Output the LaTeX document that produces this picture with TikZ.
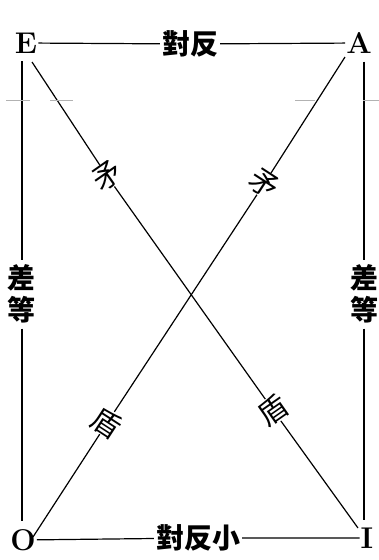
\documentclass[tikz,border=0pt]{standalone}
\usepackage{fontspec}
\newfontfamily\cjk{Noto Sans CJK TC}
\begin{document}
\begin{tikzpicture}[x=1pt,y=-1pt,
  lat/.style={font=\bfseries\fontsize{30}{30}\selectfont, inner xsep=1pt, inner ysep=8pt},
  zh/.style={font=\cjk\bfseries\fontsize{28}{28}\selectfont, inner xsep=2pt, inner ysep=2pt},
  vzh/.style={font=\cjk\bfseries\fontsize{28}{32}\selectfont, align=center, inner xsep=2pt, inner ysep=5pt},
  diag/.style={font=\cjk\fontsize{29}{29}\selectfont, inner sep=0pt},
  ln/.style={line width=1.2pt},
  regmark/.style={gray!60, line width=0.7pt}]
\useasboundingbox (0,0) rectangle (379,560);
% corners
\node[lat] (E) at (26,43) {E};
\node[lat] (A) at (359,43) {A};
\node[lat] (O) at (23,540) {O};
\node[lat] (I) at (367,538) {I};
% relation labels
\node[zh] (top) at (190,44) {對反};
\node[zh] (bot) at (198,538) {對反小};
\node[vzh] (L) at (22,294) {差\\等};
\node[vzh] (R) at (364,294) {差\\等};
\node[diag, rotate=35] (m1) at (107,176) {矛};
\node[diag, rotate=35] (d1) at (273,410) {盾};
\node[diag, rotate=-33] (m2) at (264,184) {矛};
\node[diag, rotate=-33] (d2) at (107,423) {盾};
% diagonal end points
\coordinate (eE) at (32,62);
\coordinate (eI) at (358,528);
\coordinate (eA) at (345,57);
\coordinate (eO) at (33,537);
% sides
\draw[ln] (E) -- (top) -- (A);
\draw[ln] (O) -- (bot) -- (I);
\draw[ln] (E.south -| L) -- (L) -- (O.north -| L);
\draw[ln] (A.south -| R) -- (R) -- (I.north -| R);
% diagonals
\draw[ln] (eE) -- (m1) -- (d1) -- (eI);
\draw[ln] (eA) -- (m2) -- (d2) -- (eO);
% faint registration marks
\draw[regmark] (6,100) -- (30,100);
\draw[regmark] (50,100) -- (73,100);
\draw[regmark] (295,100) -- (315,100);
\draw[regmark] (363,100) -- (379,100);
\end{tikzpicture}
\end{document}
